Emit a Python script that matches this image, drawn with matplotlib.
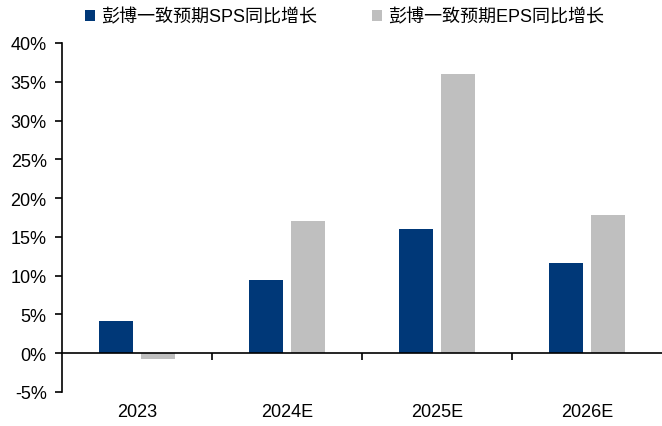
import matplotlib
matplotlib.use("Agg")
import matplotlib.pyplot as plt
import numpy as np
from matplotlib.ticker import FixedLocator, PercentFormatter

plt.rcParams["font.family"] = ["Liberation Sans", "Noto Sans CJK SC"]
plt.rcParams["axes.unicode_minus"] = False

categories = ["2023", "2024E", "2025E", "2026E"]
sps_growth = [4.1, 9.5, 16.0, 11.6]
eps_growth = [-0.8, 17.0, 36.0, 17.8]
series_labels = ["彭博一致预期SPS同比增长", "彭博一致预期EPS同比增长"]

BLUE = "#003878"
GREY = "#bfbfbf"

fig = plt.figure(figsize=(6.62, 4.27), dpi=100)
ax = fig.add_axes([62 / 662, 1 - 393 / 427, 600 / 662, 349 / 427])

x = np.arange(len(categories))
width = 0.225
offset = 0.142
ax.bar(x - offset, sps_growth, width, color=BLUE, label=series_labels[0])
ax.bar(x + offset, eps_growth, width, color=GREY, label=series_labels[1])

ax.set_xlim(-0.5, len(categories) - 0.5)
ax.set_ylim(-5, 40)
ax.set_yticks(np.arange(-5, 41, 5))
ax.yaxis.set_major_formatter(PercentFormatter(decimals=0))

# category boundaries carry the tick marks, centres carry the labels
ax.xaxis.set_major_locator(FixedLocator(x[:-1] + 0.5))
ax.xaxis.set_minor_locator(FixedLocator(x))
ax.set_xticklabels([], minor=False)
ax.set_xticklabels(categories, minor=True)
ax.tick_params(axis="x", which="major", direction="out", length=5, width=1.2)
ax.tick_params(axis="x", which="minor", length=0, pad=36, labelsize=13)
ax.tick_params(axis="y", direction="out", length=5, width=1.2, labelsize=13, pad=6)

for side in ("top", "right"):
    ax.spines[side].set_visible(False)
ax.spines["bottom"].set_position(("data", 0))
ax.spines["bottom"].set_linewidth(1.2)
ax.spines["left"].set_linewidth(1.2)

fig.legend(
    loc="center left",
    bbox_to_anchor=(78 / 662, 1 - 18 / 427),
    ncol=2,
    frameon=False,
    fontsize=13,
    handlelength=0.55,
    handleheight=0.55,
    handletextpad=0.35,
    columnspacing=3.0,
    borderaxespad=0,
)

fig.savefig("out.png", dpi=100)
